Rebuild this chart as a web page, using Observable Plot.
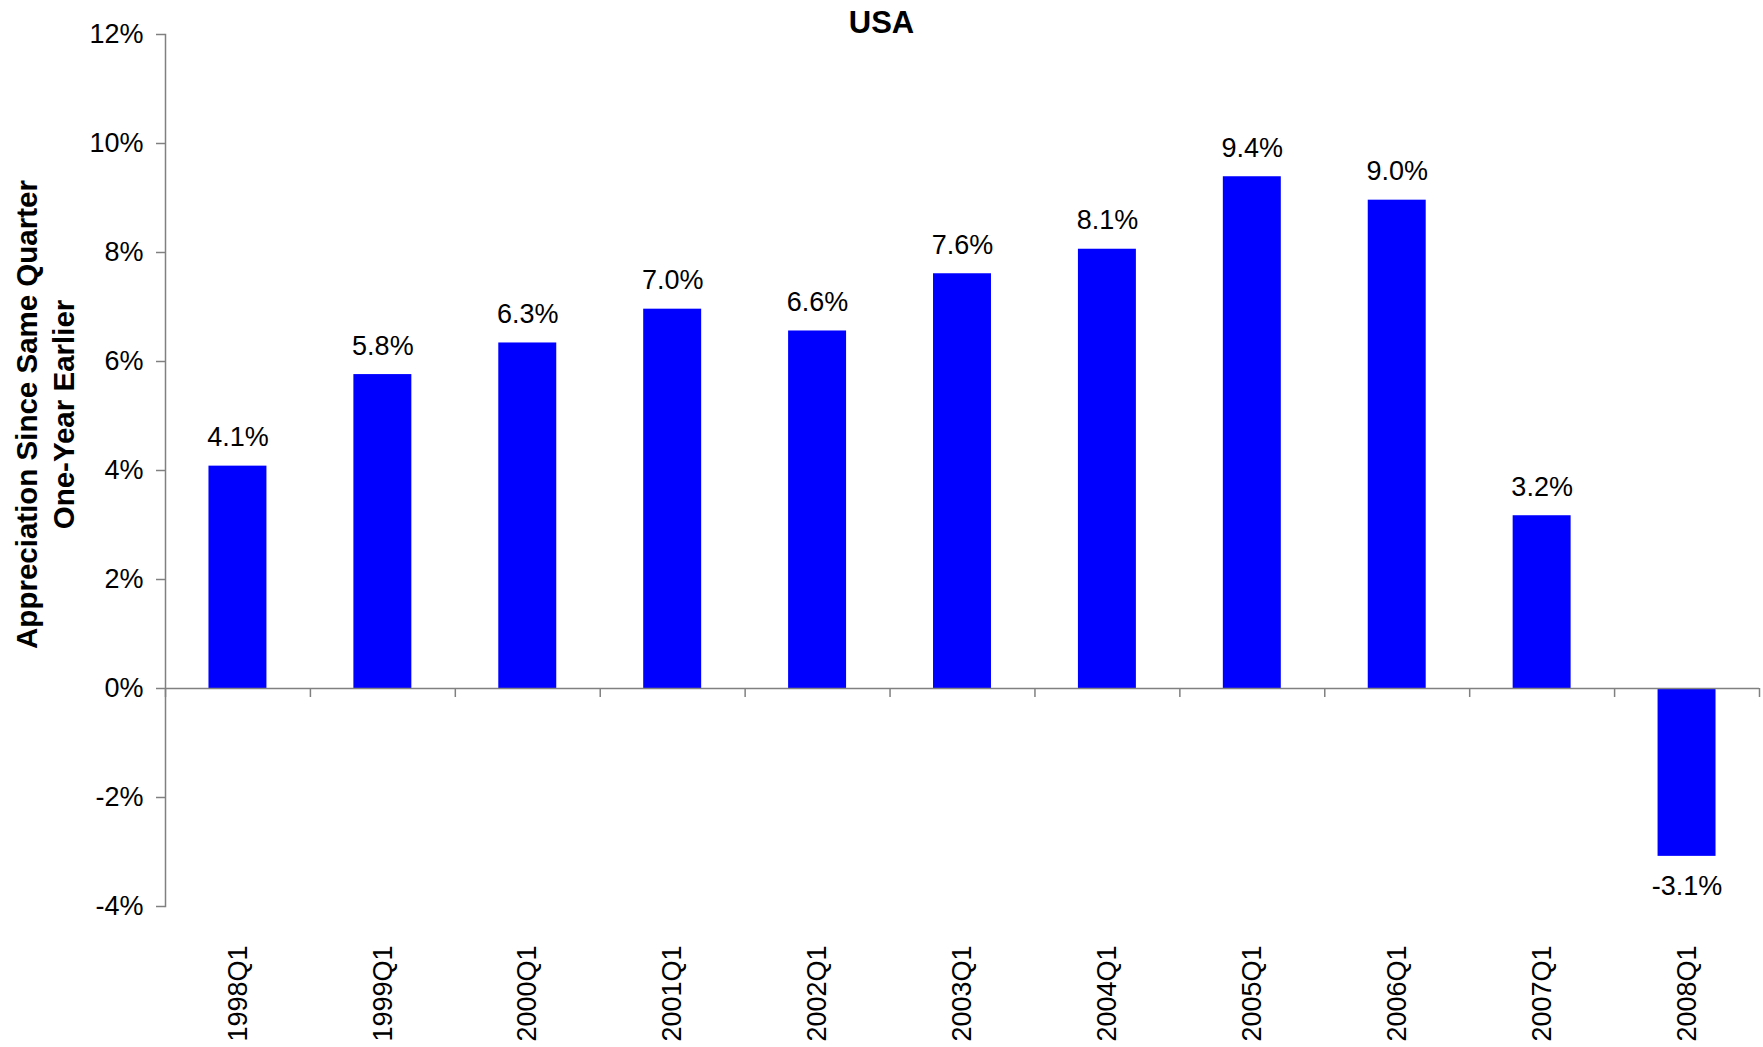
<!DOCTYPE html>
<html>
<head>
<meta charset="utf-8">
<script src="https://cdn.jsdelivr.net/npm/d3@7"></script>
<script src="https://cdn.jsdelivr.net/npm/@observablehq/plot@0.6"></script>
<style>
  html, body { margin: 0; padding: 0; background: #fff; }
  #wrap { position: relative; width: 1763px; height: 1047px; font-family: "Liberation Sans", Arial, sans-serif; }
  #title { position: absolute; left: 0; top: 7px; width: 1763px; text-align: center; font-size: 31px; font-weight: bold; line-height: 32px; color: #000; }
</style>
</head>
<body>
<div id="wrap">
  <div id="chart"></div>
  <div id="title">USA</div>
</div>
<script>
const quarters = ["1998Q1","1999Q1","2000Q1","2001Q1","2002Q1","2003Q1","2004Q1","2005Q1","2006Q1","2007Q1","2008Q1"];
const appreciation = [4.08, 5.76, 6.34, 6.96, 6.56, 7.61, 8.06, 9.39, 8.96, 3.17, -3.08];
const yTicks = [-4, -2, 0, 2, 4, 6, 8, 10, 12];
const yLabel = "Appreciation Since Same Quarter\nOne-Year Earlier";

const data = quarters.map((q, i) => ({q, v: appreciation[i]}));
const fmt = d => d.toFixed(1) + "%";

const W = 1763, H = 1047;
const mL = 165, mR = 4, mT = 34, mB = 141;
const step = (W - mL - mR) / quarters.length;
const inset = step * 0.3;
const gray = "#808080";
const font = "Liberation Sans, Arial, sans-serif";
const fs = 27;

const plot = Plot.plot({
  width: W, height: H,
  marginLeft: mL, marginRight: mR, marginTop: mT, marginBottom: mB,
  style: {fontFamily: font, fontSize: fs + "px", color: "#000", background: "#fff"},
  x: {type: "band", domain: quarters, padding: 0, round: false},
  y: {domain: [-4, 12]},
  marks: [
    Plot.barY(data, {x: "q", y: "v", fill: "#0000FF", insetLeft: inset, insetRight: inset}),
    Plot.ruleY([0], {stroke: gray, strokeWidth: 1.5}),
    Plot.ruleX(quarters, {x: d => d, y1: 0, y2: -0.165, stroke: gray, strokeWidth: 1.5, dx: -step / 2}),
    Plot.ruleX(quarters.slice(-1), {x: d => d, y1: 0, y2: -0.165, stroke: gray, strokeWidth: 1.5, dx: step / 2}),
    Plot.frame({anchor: "left", stroke: gray, strokeWidth: 1.5}),
    Plot.axisY({ticks: yTicks, tickFormat: d => d + "%", tickSize: 9, tickPadding: 13, stroke: gray, fill: "#000", fontSize: fs, label: null, strokeWidth: 1.5}),
    Plot.axisX({tickSize: 0, tickPadding: 39, tickRotate: -90, fontSize: fs, fill: "#000", label: null}),
    Plot.text(data.filter(d => d.v >= 0), {x: "q", y: "v", text: d => fmt(d.v), lineAnchor: "bottom", dy: -20, fontSize: fs, fill: "#000"}),
    Plot.text(data.filter(d => d.v < 0), {x: "q", y: "v", text: d => fmt(d.v), lineAnchor: "top", dy: 19, fontSize: fs, fill: "#000"}),
    Plot.text([yLabel], {frameAnchor: "left", textAnchor: "middle", text: d => d, rotate: -90, dx: -122, dy: -56, fontSize: 29.5, fontWeight: "bold", lineHeight: 1.26, fill: "#000"})
  ]
});
document.getElementById("chart").appendChild(plot);
</script>
</body>
</html>
